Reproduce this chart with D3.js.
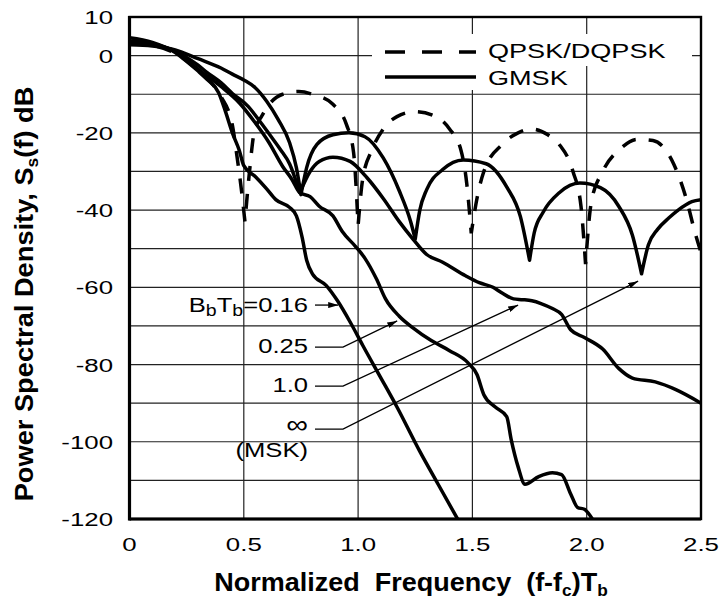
<!DOCTYPE html>
<html>
<head>
    <script src="https://cdnjs.cloudflare.com/ajax/libs/d3/7.8.5/d3.min.js"></script>
    <style>
        body { margin: 0; background: #fff; }
        text { font-family: "Liberation Sans", Arial, Helvetica, sans-serif; fill: #000; }
    </style>
</head>
<body>
    <svg id="chart" width="720" height="608"></svg>
    <script>
        // spectra: [normalized frequency (f-fc)Tb, dB]
        var qpsk = [[0, 3.2], [0.1, 2.6], [0.2, 0.6], [0.3, -3.8], [0.35, -6.5], [0.4, -10.6], [0.45, -18], [0.47, -26],
            [0.49, -35], [0.505, -43], [0.525, -30], [0.545, -20], [0.58, -15.5], [0.61, -12.7], [0.67, -10], [0.74, -9.3],
            [0.81, -10.2], [0.89, -12.6], [0.95, -18], [0.98, -25], [1.0, -44], [1.02, -32], [1.06, -24.5], [1.11, -19],
            [1.17, -15.8], [1.25, -14.5], [1.33, -15.5], [1.4, -19], [1.45, -24.5], [1.475, -33], [1.495, -46], [1.52, -37],
            [1.55, -30], [1.63, -23], [1.7, -20], [1.76, -19], [1.83, -20.5], [1.88, -23], [1.94, -30], [1.975, -39],
            [1.995, -54], [2.02, -38], [2.07, -30], [2.15, -24], [2.22, -21.7], [2.29, -22], [2.38, -28], [2.44, -38],
            [2.47, -45], [2.5, -51]]
        var msk = [[0, 2.8], [0.1, 2.5], [0.2, 1.5], [0.3, -0.8], [0.4, -3.2], [0.45, -4.8], [0.5, -6.3], [0.55, -8.3],
            [0.6, -11.8], [0.65, -16.5], [0.7, -22.5], [0.73, -29], [0.75, -36], [0.775, -29], [0.82, -23], [0.89, -20.5],
            [0.96, -20], [1.03, -21], [1.11, -26.5], [1.18, -35], [1.23, -43], [1.25, -47.5], [1.27, -40], [1.3, -34.7],
            [1.37, -29.5], [1.46, -27], [1.56, -28], [1.65, -34], [1.71, -41.7], [1.75, -53], [1.77, -46], [1.81, -40.5],
            [1.88, -35.5], [1.97, -33], [2.06, -34.2], [2.14, -39], [2.2, -46.5], [2.24, -56.5], [2.27, -49], [2.31, -45],
            [2.36, -42], [2.4, -40], [2.46, -37.8], [2.5, -37.3]]
        var gmsk10 = [[0, 3.3], [0.1, 2.8], [0.2, 1.2], [0.3, -2.5], [0.34, -4.4], [0.4, -7], [0.45, -9.8], [0.52, -13.2],
            [0.57, -17], [0.62, -21], [0.66, -24.3], [0.7, -28], [0.745, -35.5], [0.79, -30], [0.83, -27.4], [0.89, -26.3],
            [0.965, -27.4], [1.04, -31.7], [1.11, -37], [1.18, -43], [1.24, -47.5], [1.3, -51.5], [1.37, -53.5], [1.47, -57],
            [1.53, -58.8], [1.59, -60], [1.63, -61.5], [1.68, -63], [1.72, -63.2], [1.76, -63.5], [1.8, -64.2], [1.85, -65.5],
            [1.89, -67], [1.93, -71], [1.99, -73], [2.07, -76], [2.14, -81], [2.2, -83.5], [2.3, -84.5], [2.39, -86.5], [2.5, -90]]
        var gmsk025 = [[0, 3.8], [0.1, 3.1], [0.2, 1.0], [0.3, -3.5], [0.32, -4.4], [0.4, -8], [0.48, -12.2], [0.55, -17.4],
            [0.61, -22.5], [0.67, -28.7], [0.71, -32], [0.745, -35.5], [0.79, -36.5], [0.83, -39], [0.89, -41.5], [0.93, -45.5],
            [0.99, -49.5], [1.03, -52.5], [1.08, -57.8], [1.12, -63], [1.18, -67.5], [1.24, -70.5], [1.32, -73.8], [1.4, -76.4],
            [1.48, -79.5], [1.52, -82.6], [1.55, -87.8], [1.6, -91], [1.65, -93.5], [1.67, -99.5], [1.7, -106.5], [1.73, -111],
            [1.79, -109], [1.85, -108], [1.89, -108.5], [1.93, -113.5], [1.96, -117], [1.99, -117.5], [2.03, -120.5]]
        var gmsk016 = [[0, 4.6], [0.1, 3.4], [0.2, 0.8], [0.25, -1.5], [0.3, -4], [0.34, -6.2], [0.39, -9.6], [0.42, -14.5],
            [0.45, -20], [0.48, -24.5], [0.5, -28.5], [0.55, -31.3], [0.6, -34.5], [0.64, -37.3], [0.7, -39.3], [0.73, -41.5],
            [0.755, -47], [0.775, -53], [0.8, -56.5], [0.86, -59.5], [0.91, -63.5], [0.97, -69.5], [1.02, -75], [1.1, -83.5],
            [1.17, -91], [1.27, -102.5], [1.35, -111], [1.44, -120.5]]

        var freqTicks = [0, 0.5, 1.0, 1.5, 2.0, 2.5]
        var freqLabels = ["0", "0.5", "1.0", "1.5", "2.0", "2.5"]
        var dbTicks = [10, 0, -20, -40, -60, -80, -100, -120]

        // curve callouts: label, where the leader starts (dB) and what it points at
        var notes = [
            { sub: true, text: "=0.16", labelDb: -66.4, lineDb: -64.6, elbow: false, target: [0.913, -64.6] },
            { text: "0.25", labelDb: -77.0, lineDb: -75.5, elbow: true, target: [1.171, -68.7] },
            { text: "1.0", labelDb: -87.1, lineDb: -85.6, elbow: true, target: [1.70, -64.6] },
            { text: "\u221E", big: true, labelDb: -97.6, lineDb: -96.7, elbow: true, target: [2.225, -58.4] },
            { text: "(MSK)", labelDb: -104.0, lineDb: null }
        ]

        var svg = d3.select("#chart")
        var x = d3.scaleLinear().domain([0, 2.5]).range([129.5, 701])
        var y = d3.scaleLinear().domain([10, -120]).range([17, 519])

        svg.append("defs").append("clipPath").attr("id", "plot")
            .append("rect").attr("x", x(0)).attr("y", y(10)).attr("width", x(2.5) - x(0)).attr("height", y(-120) - y(10))

        svg.append("defs").append("marker")
            .attr("id", "arrow").attr("viewBox", "0 0 10 6").attr("refX", 10).attr("refY", 3)
            .attr("markerWidth", 10).attr("markerHeight", 6).attr("markerUnits", "userSpaceOnUse")
            .attr("orient", "auto")
            .append("path").attr("d", "M0,0L10,3L0,6Z").style("fill", "#000")

        // grid
        var grid = svg.append("g")
        grid.selectAll("line.h").data(d3.range(0, -121, -10))
            .enter().append("line")
            .attr("x1", x(0)).attr("x2", x(2.5))
            .attr("y1", d => y(d)).attr("y2", d => y(d))
            .style("stroke", "#222").style("stroke-width", "1.2px")
        grid.selectAll("line.v").data([0.5, 1.0, 1.5, 2.0])
            .enter().append("line")
            .attr("x1", d => x(d)).attr("x2", d => x(d))
            .attr("y1", y(10)).attr("y2", y(-120))
            .style("stroke", "#222").style("stroke-width", "1.2px")

        // legend background hides grid behind it
        svg.append("rect").attr("x", 372).attr("y", 34).attr("width", 320).attr("height", 32).style("fill", "#fff")
        svg.append("rect").attr("x", 372).attr("y", 66).attr("width", 206).attr("height", 24).style("fill", "#fff")

        // split a curve at its sharp nulls so they draw as cusps
        var line = d3.line().x(d => x(d[0])).y(d => y(d[1])).curve(d3.curveMonotoneX)
        function cuspPath(pts) {
            var segs = [], cur = [pts[0]]
            for (var i = 1; i < pts.length; i++) {
                cur.push(pts[i])
                if (i < pts.length - 1 && pts[i - 1][1] - pts[i][1] > 3 && pts[i + 1][1] - pts[i][1] > 3) {
                    segs.push(cur)
                    cur = [pts[i]]
                }
            }
            segs.push(cur)
            return segs.map((s, i) => i ? line(s).replace(/^M[^CL]*/, "") : line(s)).join("")
        }

        var curves = svg.append("g").attr("clip-path", "url(#plot)")
        curves.selectAll("path.gmsk")
            .data([msk, gmsk10, gmsk025, gmsk016])
            .enter().append("path")
            .attr("d", cuspPath)
            .style("fill", "none").style("stroke", "#000").style("stroke-width", "3.5px")
            .style("stroke-linejoin", "round")
        curves.append("path")
            .attr("d", cuspPath(qpsk))
            .style("fill", "none").style("stroke", "#000").style("stroke-width", "3.5px")
            .style("stroke-dasharray", "15,13")

        // frame
        svg.append("rect")
            .attr("x", x(0)).attr("y", y(10)).attr("width", x(2.5) - x(0)).attr("height", y(-120) - y(10))
            .style("fill", "none").style("stroke", "#000").style("stroke-width", "2.4px")
        svg.append("line").attr("x1", x(0)).attr("x2", x(0)).attr("y1", y(10) - 1).attr("y2", y(-120) + 1.5)
            .style("stroke", "#000").style("stroke-width", "3.2px")
        svg.append("line").attr("x1", x(0)).attr("x2", x(2.5)).attr("y1", y(-120)).attr("y2", y(-120))
            .style("stroke", "#000").style("stroke-width", "3.2px")

        // tick labels
        svg.selectAll("text.ytick").data(dbTicks)
            .enter().append("text")
            .attr("transform", d => `translate(113,${y(d) + 7}) scale(1.36,1)`)
            .style("text-anchor", "end").style("font-size", "19px")
            .text(d => d)
        svg.selectAll("text.xtick").data(freqTicks)
            .enter().append("text")
            .attr("transform", d => `translate(${x(d)},551) scale(1.36,1)`)
            .style("text-anchor", "middle").style("font-size", "19px")
            .text((d, i) => freqLabels[i])

        // axis titles
        var xt = svg.append("text")
            .attr("transform", "translate(411,591) scale(1.08,1)")
            .style("text-anchor", "middle").style("font-size", "25px").style("font-weight", "bold")
            .style("white-space", "pre")
        xt.append("tspan").text("Normalized  Frequency  (f-f")
        xt.append("tspan").text("c").style("font-size", "16px").attr("dy", 5)
        xt.append("tspan").text(")T").attr("dy", -5)
        xt.append("tspan").text("b").style("font-size", "16px").attr("dy", 5)

        var yt = svg.append("text")
            .attr("transform", "translate(33,294) rotate(-90) scale(1.09,1)")
            .style("text-anchor", "middle").style("font-size", "25px").style("font-weight", "bold")
        yt.append("tspan").text("Power Spectral Density, S")
        yt.append("tspan").text("s").style("font-size", "16px").attr("dy", 5)
        yt.append("tspan").text("(f) dB").attr("dy", -5)

        // legend
        svg.append("line").attr("x1", 385).attr("x2", 476).attr("y1", 52).attr("y2", 52)
            .style("stroke", "#000").style("stroke-width", "3.4px").style("stroke-dasharray", "20,17")
        svg.append("line").attr("x1", 385).attr("x2", 476).attr("y1", 77).attr("y2", 77)
            .style("stroke", "#000").style("stroke-width", "3.3px")
        svg.append("text").attr("transform", "translate(488,58) scale(1.29,1)")
            .style("font-size", "21px").text("QPSK/DQPSK")
        svg.append("text").attr("transform", "translate(488,85) scale(1.29,1)")
            .style("font-size", "21px").text("GMSK")

        // callouts
        var labelRight = 308, lineStart = 315, elbowX = 343
        notes.forEach(function (n) {
            var t = svg.append("text")
                .attr("transform", `translate(${labelRight},${y(n.labelDb)}) scale(1.22,1)`)
                .style("text-anchor", "end").style("font-size", n.big ? "25px" : "21px")
            if (n.sub) {
                t.append("tspan").text("B")
                t.append("tspan").text("b").style("font-size", "16px").attr("dy", 4)
                t.append("tspan").text("T").attr("dy", -4)
                t.append("tspan").text("b").style("font-size", "16px").attr("dy", 4)
                t.append("tspan").text(n.text).attr("dy", -4)
            } else {
                t.text(n.text)
            }
            if (n.lineDb === null) return
            var pts = [[lineStart, y(n.lineDb)]]
            if (n.elbow) pts.push([elbowX, y(n.lineDb)])
            pts.push([x(n.target[0]), y(n.target[1])])
            svg.append("path")
                .attr("d", d3.line()(pts))
                .style("fill", "none").style("stroke", "#000").style("stroke-width", "1.3px")
                .attr("marker-end", "url(#arrow)")
        })
    </script>
</body>
</html>
